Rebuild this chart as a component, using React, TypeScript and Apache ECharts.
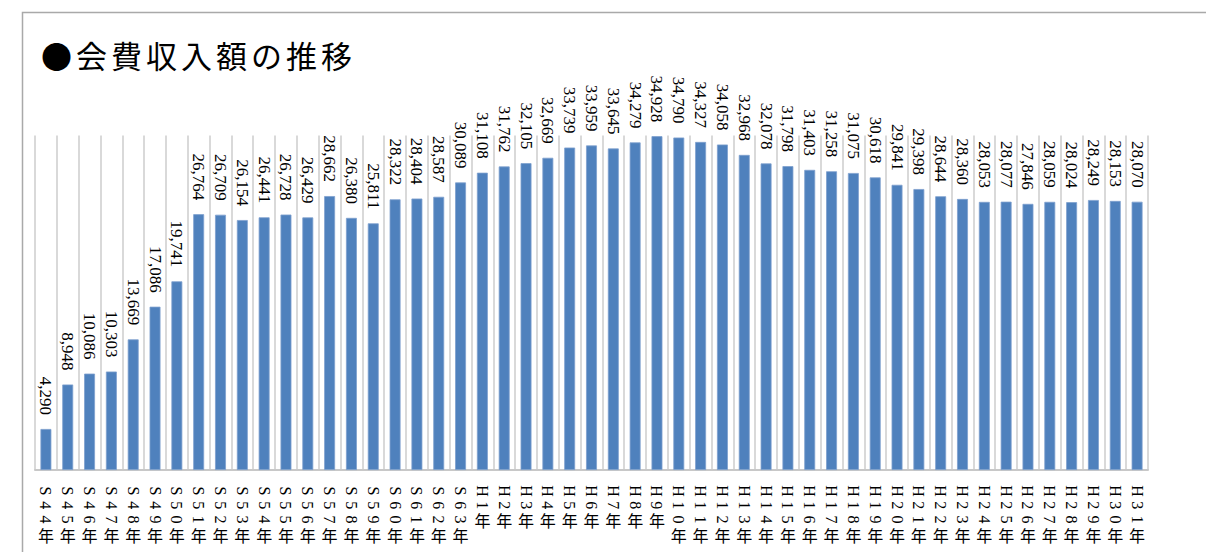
import React, { useEffect, useRef } from "react";
import * as echarts from "echarts";

const titleText = "●会費収入額の推移";

const categories = [
  "S44年", "S45年", "S46年", "S47年", "S48年", "S49年", "S50年", "S51年", "S52年", "S53年",
  "S54年", "S55年", "S56年", "S57年", "S58年", "S59年", "S60年", "S61年", "S62年", "S63年",
  "H1年", "H2年", "H3年", "H4年", "H5年", "H6年", "H7年", "H8年", "H9年", "H10年",
  "H11年", "H12年", "H13年", "H14年", "H15年", "H16年", "H17年", "H18年", "H19年", "H20年",
  "H21年", "H22年", "H23年", "H24年", "H25年", "H26年", "H27年", "H28年", "H29年", "H30年",
  "H31年",
];

const feeIncome = [
  4290, 8948, 10086, 10303, 13669, 17086, 19741, 26764, 26709, 26154,
  26441, 26728, 26429, 28662, 26380, 25811, 28322, 28404, 28587, 30089,
  31108, 31762, 32105, 32669, 33739, 33959, 33645, 34279, 34928, 34790,
  34327, 34058, 32968, 32078, 31798, 31403, 31258, 31075, 30618, 29841,
  29398, 28644, 28360, 28053, 28077, 27846, 28059, 28024, 28249, 28153,
  28070,
];

const yMax = 35000;

const serif = "'Liberation Serif', 'DejaVu Serif', 'Noto Sans CJK JP', serif";
const cjk = "'Noto Sans CJK JP', 'Liberation Serif', serif";

export default function App() {
  const ref = useRef<HTMLDivElement>(null);

  useEffect(() => {
    if (!ref.current) return;
    const chart = echarts.init(ref.current, undefined, { renderer: "svg" });

    const option: any = {
      animation: false,
      backgroundColor: "#ffffff",
      graphic: [
        {
          type: "rect",
          shape: { x: 22.5, y: 12.5, width: 1400, height: 800 },
          style: { fill: "none", stroke: "#a9a9a9", lineWidth: 1.5 },
          silent: true,
        },
        {
          type: "text",
          x: 41,
          y: 54,
          style: {
            text: titleText,
            fontSize: 31,
            fontFamily: cjk,
            fill: "#000000",
            align: "left",
            verticalAlign: "middle",
          },
          silent: true,
        },
      ],
      grid: { left: 35, right: 58, top: 135.5, bottom: 82, containLabel: false },
      xAxis: {
        type: "category",
        data: categories,
        boundaryGap: true,
        axisLine: { show: true, lineStyle: { color: "#c8c8c8", width: 2 } },
        axisTick: { show: false },
        axisLabel: { show: false },
        splitLine: { show: true, interval: 0, lineStyle: { color: "#d9d9d9", width: 2 } },
      },
      yAxis: {
        type: "value",
        min: 0,
        max: yMax,
        show: false,
        splitLine: { show: false },
      },
      series: [
        {
          type: "bar",
          data: feeIncome,
          barWidth: "50%",
          itemStyle: { color: "#4F81BD", borderColor: "#7d9fce", borderWidth: 0.8 },
          label: {
            show: true,
            position: "top",
            rotate: -90,
            align: "right",
            verticalAlign: "middle",
            distance: 14,
            fontSize: 17,
            fontFamily: serif,
            color: "#000000",
            formatter: (p: any) => Number(p.value).toLocaleString("en-US"),
          },
        },
        {
          type: "custom",
          coordinateSystem: "cartesian2d",
          silent: true,
          clip: false,
          z: 10,
          data: categories.map((_, i) => [i, 0]),
          encode: { x: 0, y: 1 },
          renderItem: (params: any, api: any) => {
            const idx = api.value(0);
            const label = categories[idx];
            const pt = api.coord([idx, 0]);
            const latin = label.replace("年", "");
            const children: any[] = [];
            const pitch = 14.2;
            const startY = pt[1] + 21;
            for (let i = 0; i < latin.length; i++) {
              children.push({
                type: "text",
                x: pt[0],
                y: startY + i * pitch,
                rotation: -Math.PI / 2,
                style: {
                  text: latin[i],
                  fontSize: 16,
                  fontFamily: serif,
                  fill: "#000000",
                  align: "center",
                  verticalAlign: "middle",
                },
              });
            }
            children.push({
              type: "text",
              x: pt[0],
              y: startY + latin.length * pitch + 1,
              style: {
                text: "年",
                fontSize: 16,
                fontFamily: cjk,
                fill: "#000000",
                align: "center",
                verticalAlign: "middle",
              },
            });
            return { type: "group", children };
          },
        },
      ],
    };

    chart.setOption(option);

    const applySpacing = () => {
      const root = ref.current;
      if (!root) return;
      root.querySelectorAll("text").forEach((t) => {
        if (t.textContent === titleText) {
          t.setAttribute("letter-spacing", "4px");
        }
      });
    };
    chart.on("finished", applySpacing);
    const timer = setTimeout(applySpacing, 50);

    return () => {
      clearTimeout(timer);
      chart.dispose();
    };
  }, []);

  return (
    <div
      ref={ref}
      style={{ position: "fixed", left: 0, top: 0, width: 1206, height: 552, background: "#fff" }}
    />
  );
}
